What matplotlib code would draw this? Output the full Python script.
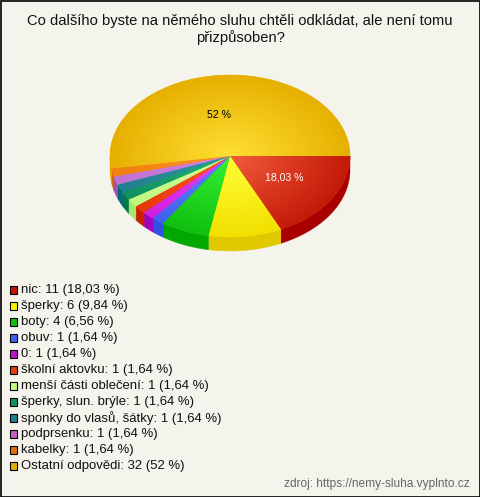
import numpy as np
import matplotlib
matplotlib.use("Agg")
import matplotlib.pyplot as plt
from matplotlib.patches import Polygon, Rectangle
from matplotlib.colors import to_rgb

plt.rcParams['font.family'] = ['Liberation Sans', 'DejaVu Sans']

title = "Co dalšího byste na němého sluhu chtěli odkládat, ale není tomu\npřizpůsoben?"
labels = ["nic", "šperky", "boty", "obuv", "0", "školní aktovku", "menší části oblečení",
          "šperky, slun. brýle", "sponky do vlasů, šátky", "podprsenku", "kabelky", "Ostatní odpovědi"]
counts = [11, 6, 4, 1, 1, 1, 1, 1, 1, 1, 1, 32]
pct_text = ["18,03 %", "9,84 %", "6,56 %", "1,64 %", "1,64 %", "1,64 %", "1,64 %",
            "1,64 %", "1,64 %", "1,64 %", "1,64 %", "52 %"]
top_light = ["#f25c3c", "#ffff38", "#34f234", "#6484ff", "#ea44f8", "#ff5424", "#d4ff94",
             "#24b474", "#3494a4", "#d484e4", "#ff9424", "#ffe034"]
top_dark = ["#c41a08", "#f2e000", "#10c010", "#4060f0", "#d020e0", "#e83808", "#c0f880",
            "#109060", "#208090", "#c070d0", "#f08010", "#e6b000"]
side_col = ["#a80000", "#e0c800", "#00a800", "#3050e0", "#a000c0", "#c82000", "#a8e868",
            "#007848", "#006878", "#a050b0", "#d06800", "#e0a800"]
legend_col = ["#c01808", "#ffee00", "#10c010", "#4060f0", "#c010d0", "#e04010", "#c0ff80",
              "#109060", "#208090", "#c060c0", "#e07010", "#e0b000"]

W, H = 480, 497
fig = plt.figure(figsize=(W / 100, H / 100), dpi=100, facecolor="#f4f3ec")
ax = fig.add_axes([0, 0, 1, 1])
ax.set_xlim(0, W)
ax.set_ylim(H, 0)
ax.axis("off")
ax.set_facecolor("#f4f3ec")

# border
ax.add_patch(Rectangle((0.5, 0.5), W - 1, H - 1, fill=False, edgecolor="black", lw=1.2))

ax.text(240, 29.5, title, ha="center", va="center", fontsize=10.6, color="#111111", linespacing=1.15)

cx, cy, rx, ry, depth = 230, 156, 120, 81, 14
total = sum(counts)
angles = np.concatenate([[0], np.cumsum(counts) / total * 360])

def pt(t):
    r = np.radians(t)
    return cx + rx * np.cos(r), cy + ry * np.sin(r)

# sides (front half: 0..180)
for i in range(len(counts)):
    a, b = max(angles[i], 0), min(angles[i + 1], 180)
    if b <= a:
        continue
    ts = np.linspace(a, b, 60)
    xs, ys = pt(ts)
    poly = np.column_stack([np.concatenate([xs, xs[::-1]]),
                            np.concatenate([ys, ys[::-1] + depth])])
    ax.add_patch(Polygon(poly, closed=True, facecolor=side_col[i], edgecolor=side_col[i], lw=0.3))

# tops with radial gradient
x0, x1, y0, y1 = cx - rx - 2, cx + rx + 2, cy - ry - 2, cy + ry + 2
gx = np.linspace(x0, x1, 300)
gy = np.linspace(y0, y1, 220)
GX, GY = np.meshgrid(gx, gy)
R = np.clip(np.sqrt(((GX - cx) / rx) ** 2 + ((GY - cy) / ry) ** 2), 0, 1)
for i in range(len(counts)):
    ts = np.linspace(angles[i], angles[i + 1], max(int(counts[i] * 10), 20))
    xs, ys = pt(ts)
    poly = np.column_stack([np.concatenate([[cx], xs]), np.concatenate([[cy], ys])])
    patch = Polygon(poly, closed=True, facecolor=top_dark[i], edgecolor=top_dark[i], lw=0.3)
    ax.add_patch(patch)
    l, d = np.array(to_rgb(top_light[i])), np.array(to_rgb(top_dark[i]))
    img = l[None, None, :] * (1 - R[..., None]) + d[None, None, :] * R[..., None]
    im = ax.imshow(img, extent=(x0, x1, y1, y0), origin="upper", interpolation="bilinear", zorder=2)
    im.set_clip_path(patch)
ax.set_xlim(0, W)
ax.set_ylim(H, 0)
ax.set_aspect("auto")

ax.text(284, 177, pct_text[0], ha="center", va="center", fontsize=7.6, color="white", zorder=5)
ax.text(219, 115, pct_text[-1], ha="center", va="center", fontsize=7.6, color="black", zorder=5)

# legend
for i, lab in enumerate(labels):
    y = 290 + i * 16
    ax.add_patch(Rectangle((9.5, y - 4), 7.5, 7.5, facecolor=legend_col[i], edgecolor="black", lw=0.8, zorder=5))
    ax.text(21, y, f"{lab}: {counts[i]} ({pct_text[i]})", ha="left", va="center",
            fontsize=9.45, color="#111111", zorder=5)

ax.text(470, 484, "zdroj: https://nemy-sluha.vyplnto.cz", ha="right", va="center",
        fontsize=8.6, color="#666666")

fig.savefig("out.png", dpi=100, facecolor=fig.get_facecolor())
